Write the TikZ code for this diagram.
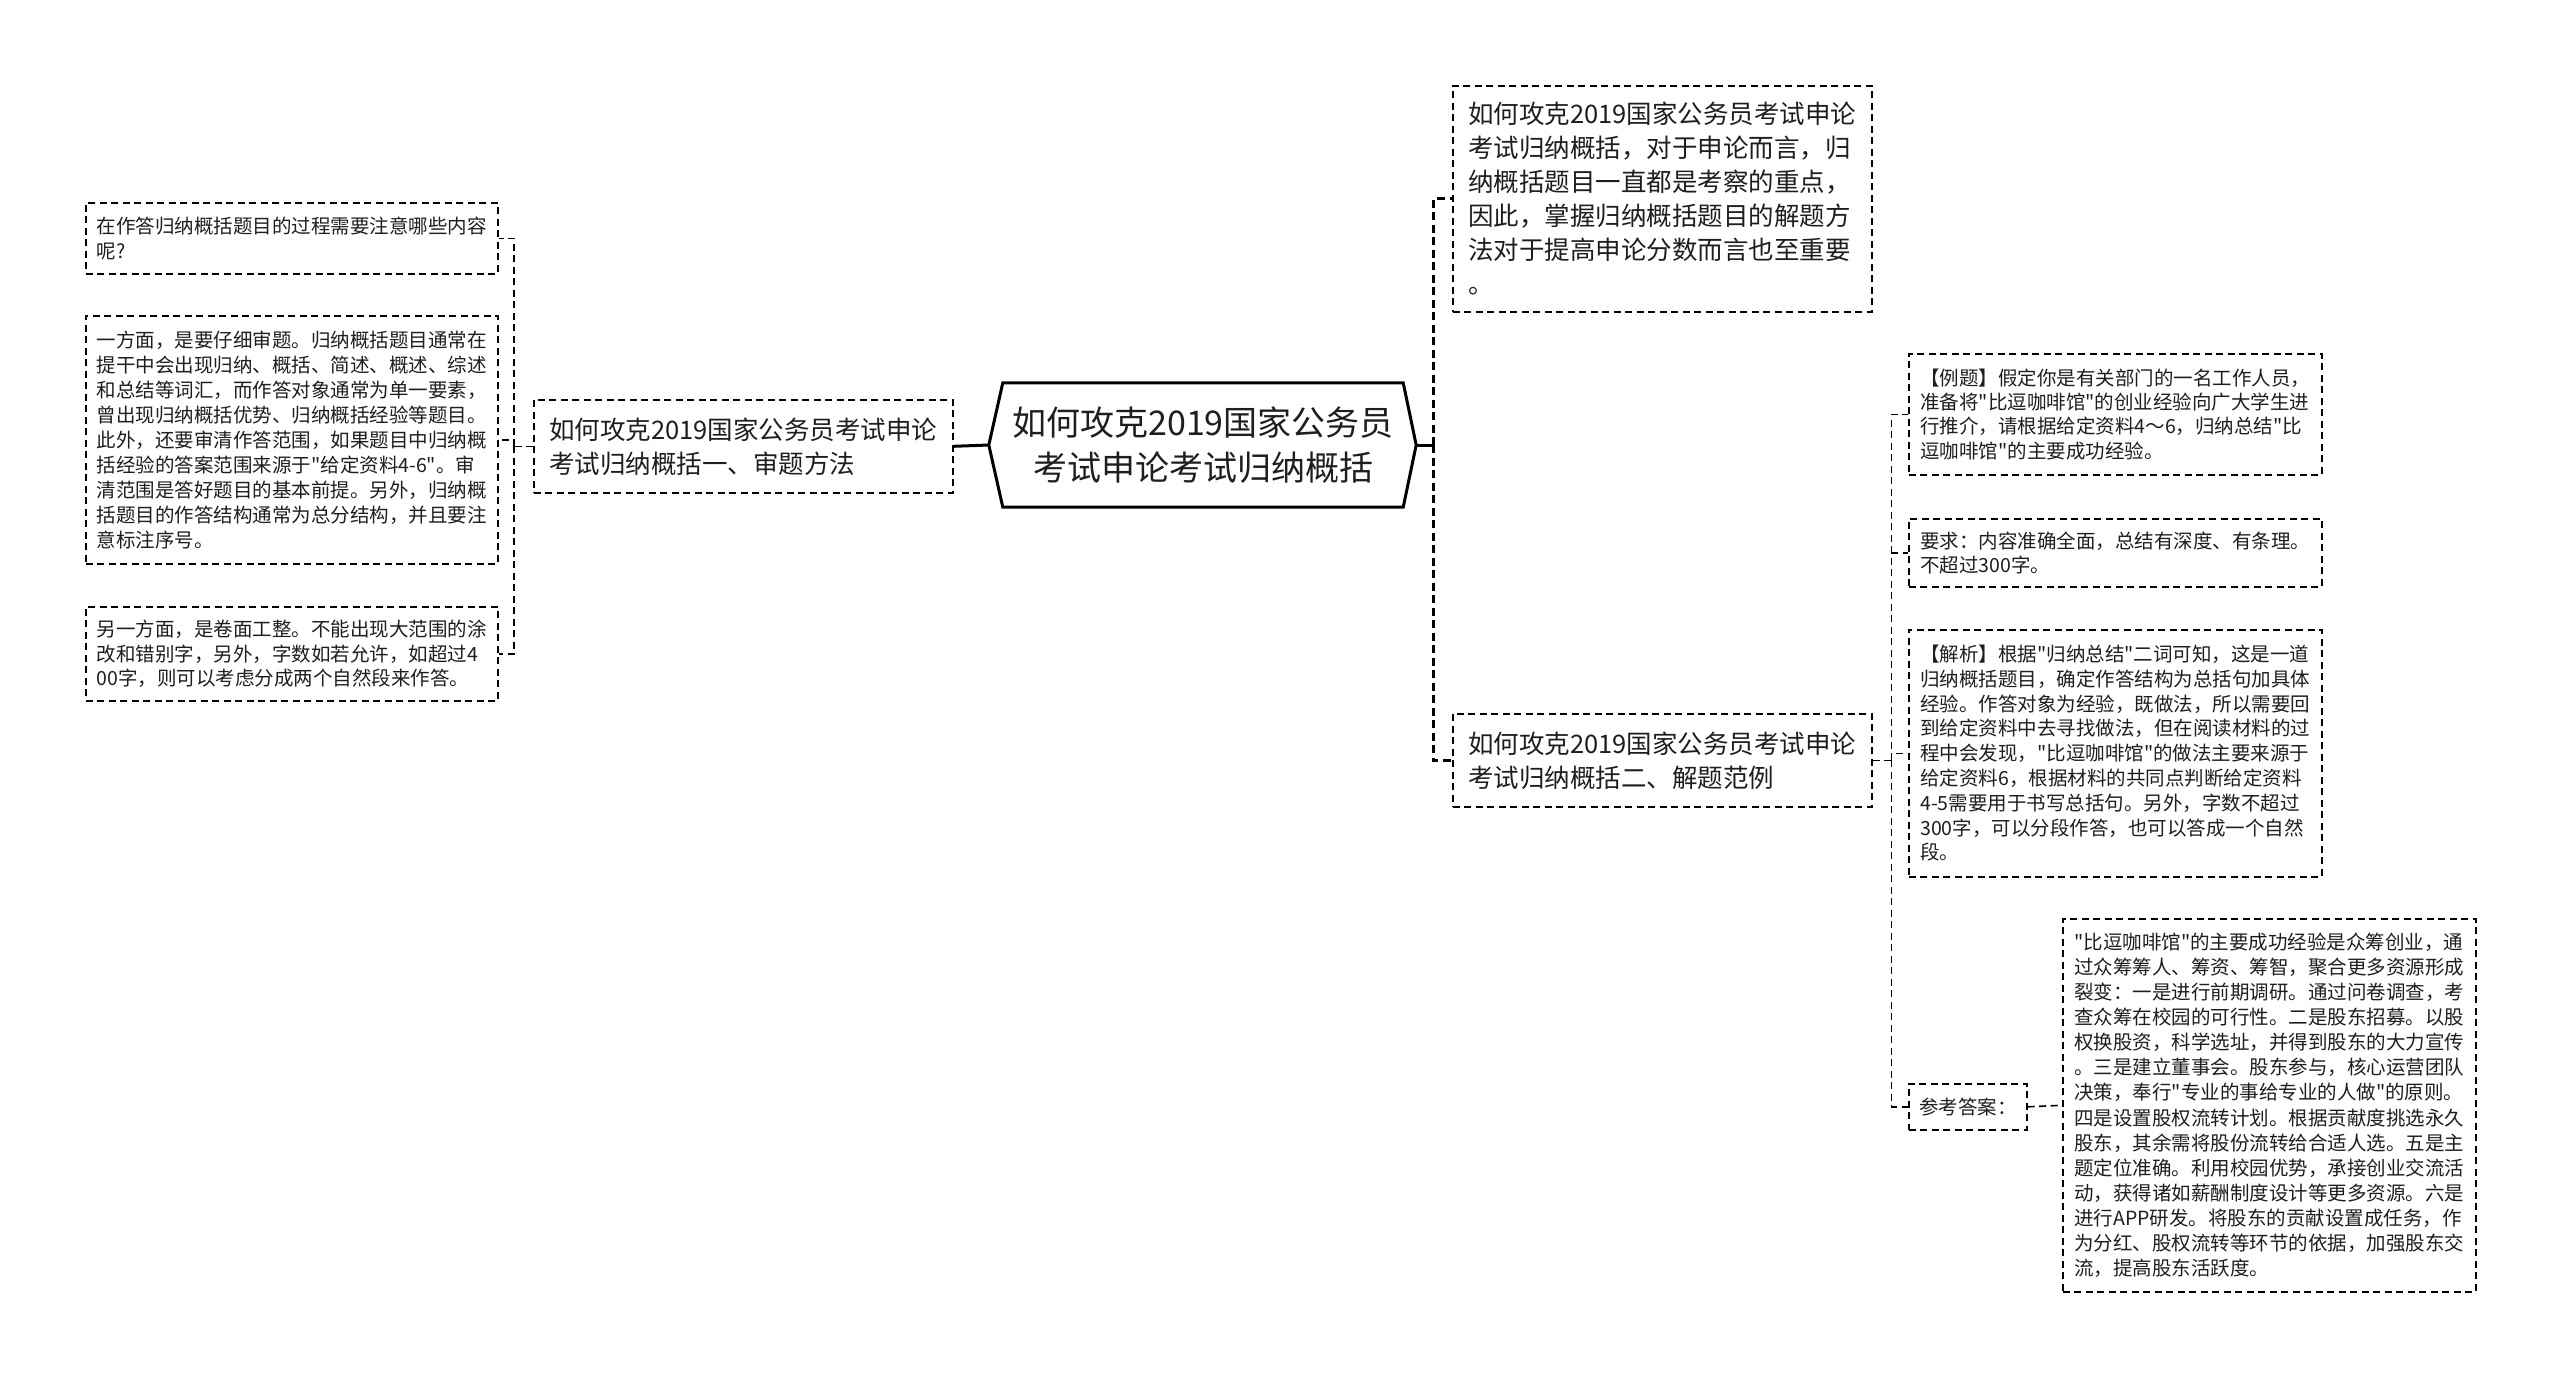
\documentclass[tikz,border=0pt]{standalone}
\usepackage{fontspec}
\setmainfont{Noto Sans CJK SC}[Ligatures=TeXOff]
\usetikzlibrary{calc}
\definecolor{txt}{HTML}{1E1E1E}
\tikzset{
  box/.style={draw=black, line width=1.6pt, dash pattern=on 7pt off 4.5pt, align=left, inner xsep=8pt, inner ysep=0pt, anchor=north west, text=txt},
  leaf/.style={box, font=\fontsize{19.5pt}{24.3pt}\selectfont},
  sub/.style={box, font=\fontsize{25.5pt}{34pt}\selectfont},
  conna/.style={draw=black, line width=3pt, dash pattern=on 8pt off 4.5pt},
  connas/.style={draw=black, line width=3pt},
  connb/.style={draw=black, line width=1.6pt, dash pattern=on 7pt off 4.5pt},
}
\begin{document}
\begin{tikzpicture}[x=1pt,y=-1pt]
\fill[white] (0,0) rectangle (2560,1377);
\useasboundingbox (0,0) rectangle (2560,1377);

% centre
\node[draw=none, minimum width=400pt, minimum height=124pt, inner sep=0pt, align=center, text=txt, font=\fontsize{34pt}{45pt}\selectfont] (C) at (1203,445) {如何攻克2019国家公务员\\考试申论考试归纳概括};
\coordinate (Ctl) at ($(C.west)+(-14,0)$);
\coordinate (Ctr) at ($(C.east)+(13,0)$);
\draw[line width=3pt, line join=miter] (C.north west) -- (C.north east) -- (Ctr) -- (C.south east) -- (C.south west) -- (Ctl) -- cycle;

% left side
\node[sub, minimum width=419pt, minimum height=93pt] (LB) at (533,399) {如何攻克2019国家公务员考试申论\\考试归纳概括一、审题方法};
\node[leaf, minimum width=412pt, minimum height=71pt] (L1) at (85,202) {在作答归纳概括题目的过程需要注意哪些内容\\呢?};
\node[leaf, minimum width=412pt, minimum height=248pt, font=\fontsize{19.5pt}{25pt}\selectfont] (L2) at (85,315) {一方面，是要仔细审题。归纳概括题目通常在\\提干中会出现归纳、概括、简述、概述、综述\\和总结等词汇，而作答对象通常为单一要素，\\曾出现归纳概括优势、归纳概括经验等题目。\\此外，还要审清作答范围，如果题目中归纳概\\括经验的答案范围来源于"给定资料4-6"。审\\清范围是答好题目的基本前提。另外，归纳概\\括题目的作答结构通常为总分结构，并且要注\\意标注序号。};
\node[leaf, minimum width=412pt, minimum height=94pt] (L3) at (85,606) {另一方面，是卷面工整。不能出现大范围的涂\\改和错别字，另外，字数如若允许，如超过4\\00字，则可以考虑分成两个自然段来作答。};

% right side level 1
\node[sub, minimum width=419pt, minimum height=226pt] (R1) at (1452,85) {如何攻克2019国家公务员考试申论\\考试归纳概括，对于申论而言，归\\纳概括题目一直都是考察的重点，\\因此，掌握归纳概括题目的解题方\\法对于提高申论分数而言也至重要\\。};
\node[sub, minimum width=419pt, minimum height=93pt] (R2) at (1452,713) {如何攻克2019国家公务员考试申论\\考试归纳概括二、解题范例};

% right side level 2
\node[leaf, minimum width=413pt, minimum height=121pt] (E1) at (1908,353) {【例题】假定你是有关部门的一名工作人员，\\准备将"比逗咖啡馆"的创业经验向广大学生进\\行推介，请根据给定资料4～6，归纳总结"比\\逗咖啡馆"的主要成功经验。};
\node[leaf, minimum width=413pt, minimum height=68pt] (E2) at (1908,518) {要求：内容准确全面，总结有深度、有条理。\\不超过300字。};
\node[leaf, minimum width=413pt, minimum height=247pt, font=\fontsize{19.5pt}{24.8pt}\selectfont] (E3) at (1908,629) {【解析】根据"归纳总结"二词可知，这是一道\\归纳概括题目，确定作答结构为总括句加具体\\经验。作答对象为经验，既做法，所以需要回\\到给定资料中去寻找做法，但在阅读材料的过\\程中会发现，"比逗咖啡馆"的做法主要来源于\\给定资料6，根据材料的共同点判断给定资料\\4-5需要用于书写总括句。另外，字数不超过\\300字，可以分段作答，也可以答成一个自然\\段。};
\node[leaf, minimum width=118pt, minimum height=46pt, inner xsep=6pt] (A1) at (1908,1083) {参考答案：};
\node[leaf, minimum width=413pt, minimum height=373pt, font=\fontsize{19.5pt}{25.1pt}\selectfont] (A2) at (2062,918) {"比逗咖啡馆"的主要成功经验是众筹创业，通\\过众筹筹人、筹资、筹智，聚合更多资源形成\\裂变：一是进行前期调研。通过问卷调查，考\\查众筹在校园的可行性。二是股东招募。以股\\权换股资，科学选址，并得到股东的大力宣传\\。三是建立董事会。股东参与，核心运营团队\\决策，奉行"专业的事给专业的人做"的原则。\\四是设置股权流转计划。根据贡献度挑选永久\\股东，其余需将股份流转给合适人选。五是主\\题定位准确。利用校园优势，承接创业交流活\\动，获得诸如薪酬制度设计等更多资源。六是\\进行APP研发。将股东的贡献设置成任务，作\\为分红、股权流转等环节的依据，加强股东交\\流，提高股东活跃度。};

% connectors
\draw[connas] (Ctl) -- (LB.east);
\coordinate (cj) at ($(Ctr)+(17,0)$);
\draw[connas] (Ctr) -- (cj);
\draw[conna] (cj) |- (R1.west);
\draw[conna] (cj) |- (R2.west);

\coordinate (lj) at ($(LB.west)+(-19,0)$);
\draw[connb] (LB.west) -- (lj);
\draw[connb] (lj) |- (L1.east);
\draw[connb] (lj) |- (L2.east);
\draw[connb] (lj) |- (L3.east);

\coordinate (rj) at ($(R2.east)+(19,0)$);
\draw[connb] (R2.east) -- (rj);
\draw[connb] (rj) |- (E1.west);
\draw[connb] (rj) |- (E2.west);
\draw[connb] (rj) |- (E3.west);
\draw[connb] (rj) |- (A1.west);
\draw[connb] (A1.east) -- (A2.west);
\end{tikzpicture}
\end{document}
